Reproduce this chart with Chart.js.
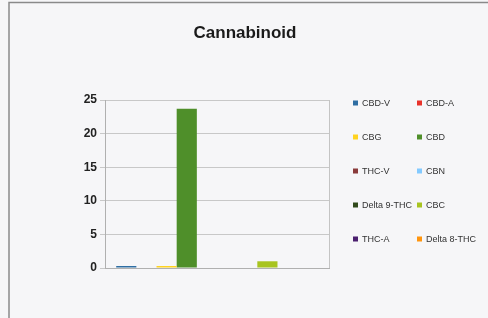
<!DOCTYPE html>
<html>
<head>
<meta charset="utf-8">
<script src="https://cdn.jsdelivr.net/npm/chart.js@4/dist/chart.umd.min.js"></script>
<style>
  html, body { margin: 0; padding: 0; background: #f6f6f8; }
  #wrap { width: 488px; height: 318px; position: relative; }
</style>
</head>
<body>
<div id="wrap"><canvas id="chart" width="488" height="318"></canvas></div>
<script>
// 데이터
const categories = [""];
const seriesNames = ["CBD-V", "CBD-A", "CBG", "CBD", "THC-V", "CBN", "Delta 9-THC", "CBC", "THC-A", "Delta 8-THC"];
const seriesValues = [0.3, 0, 0.3, 23.7, 0, 0, 0, 1.0, 0, 0];
const seriesColors = ["#2f6ea3", "#e8322a", "#ffd320", "#4f8f2a", "#8a3b3b", "#83caff", "#314a1c", "#a8c420", "#4b1f6f", "#ff950e"];
const yTicks = [0, 5, 10, 15, 20, 25];

const datasets = seriesNames.map((name, i) => ({
  label: name,
  data: [seriesValues[i]],
  backgroundColor: seriesColors[i],
  borderWidth: 0
}));

// 제목, 테두리, 범례 그리기
const decorPlugin = {
  id: 'decor',
  beforeDraw(chart) {
    const c = chart.ctx;
    c.save();
    c.strokeStyle = '#8a8a8a';
    c.lineWidth = 1.5;
    c.beginPath();
    c.moveTo(9, 318);
    c.lineTo(9, 2.5);
    c.lineTo(488, 2.5);
    c.stroke();
    c.restore();
  },
  afterDraw(chart) {
    const c = chart.ctx;
    const a = chart.chartArea;
    c.save();
    // 오른쪽 테두리
    c.strokeStyle = '#c4c4c4';
    c.lineWidth = 1;
    c.beginPath();
    c.moveTo(a.right + 0.5, a.top);
    c.lineTo(a.right + 0.5, a.bottom);
    c.stroke();
    // 제목
    c.fillStyle = '#1a1a1a';
    c.font = 'bold 17px "Liberation Sans", Arial, sans-serif';
    c.textAlign = 'center';
    c.textBaseline = 'middle';
    c.fillText('Cannabinoid', 245, 33);
    // 범례 (2열)
    c.font = '9px "Liberation Sans", Arial, sans-serif';
    c.textAlign = 'left';
    chart.data.datasets.forEach((ds, i) => {
      const col = i % 2;
      const row = Math.floor(i / 2);
      const x = 353 + col * 64;
      const y = 103 + row * 34;
      c.fillStyle = ds.backgroundColor;
      c.fillRect(x, y - 2.5, 5, 5);
      c.fillStyle = '#333';
      c.fillText(ds.label, x + 9, y + 0.5);
    });
    c.restore();
  }
};

const config = {
  type: 'bar',
  data: { labels: categories, datasets: datasets },
  options: {
    responsive: false,
    animation: false,
    layout: { padding: { left: 50, right: 159, top: 100, bottom: 50 } },
    plugins: {
      legend: { display: false },
      title: { display: false },
      tooltip: { enabled: false }
    },
    datasets: { bar: { categoryPercentage: 0.9, barPercentage: 1.0 } },
    scales: {
      x: {
        ticks: { display: false },
        grid: { display: false },
        border: { color: '#b0b0b0' },
        afterFit(s) { s.height = 0; }
      },
      y: {
        min: 0,
        max: 25,
        afterBuildTicks(s) { s.ticks = yTicks.map(v => ({ value: v })); },
        afterFit(s) { s.width = 55; },
        ticks: {
          color: '#222',
          padding: 3,
          font: { family: '"Liberation Sans", Arial, sans-serif', size: 12, weight: 'bold' }
        },
        grid: { color: '#c8c8c8', tickLength: 5 },
        border: { color: '#b0b0b0' }
      }
    }
  },
  plugins: [decorPlugin]
};

const chart = new Chart(document.getElementById('chart').getContext('2d'), config);
</script>
</body>
</html>
